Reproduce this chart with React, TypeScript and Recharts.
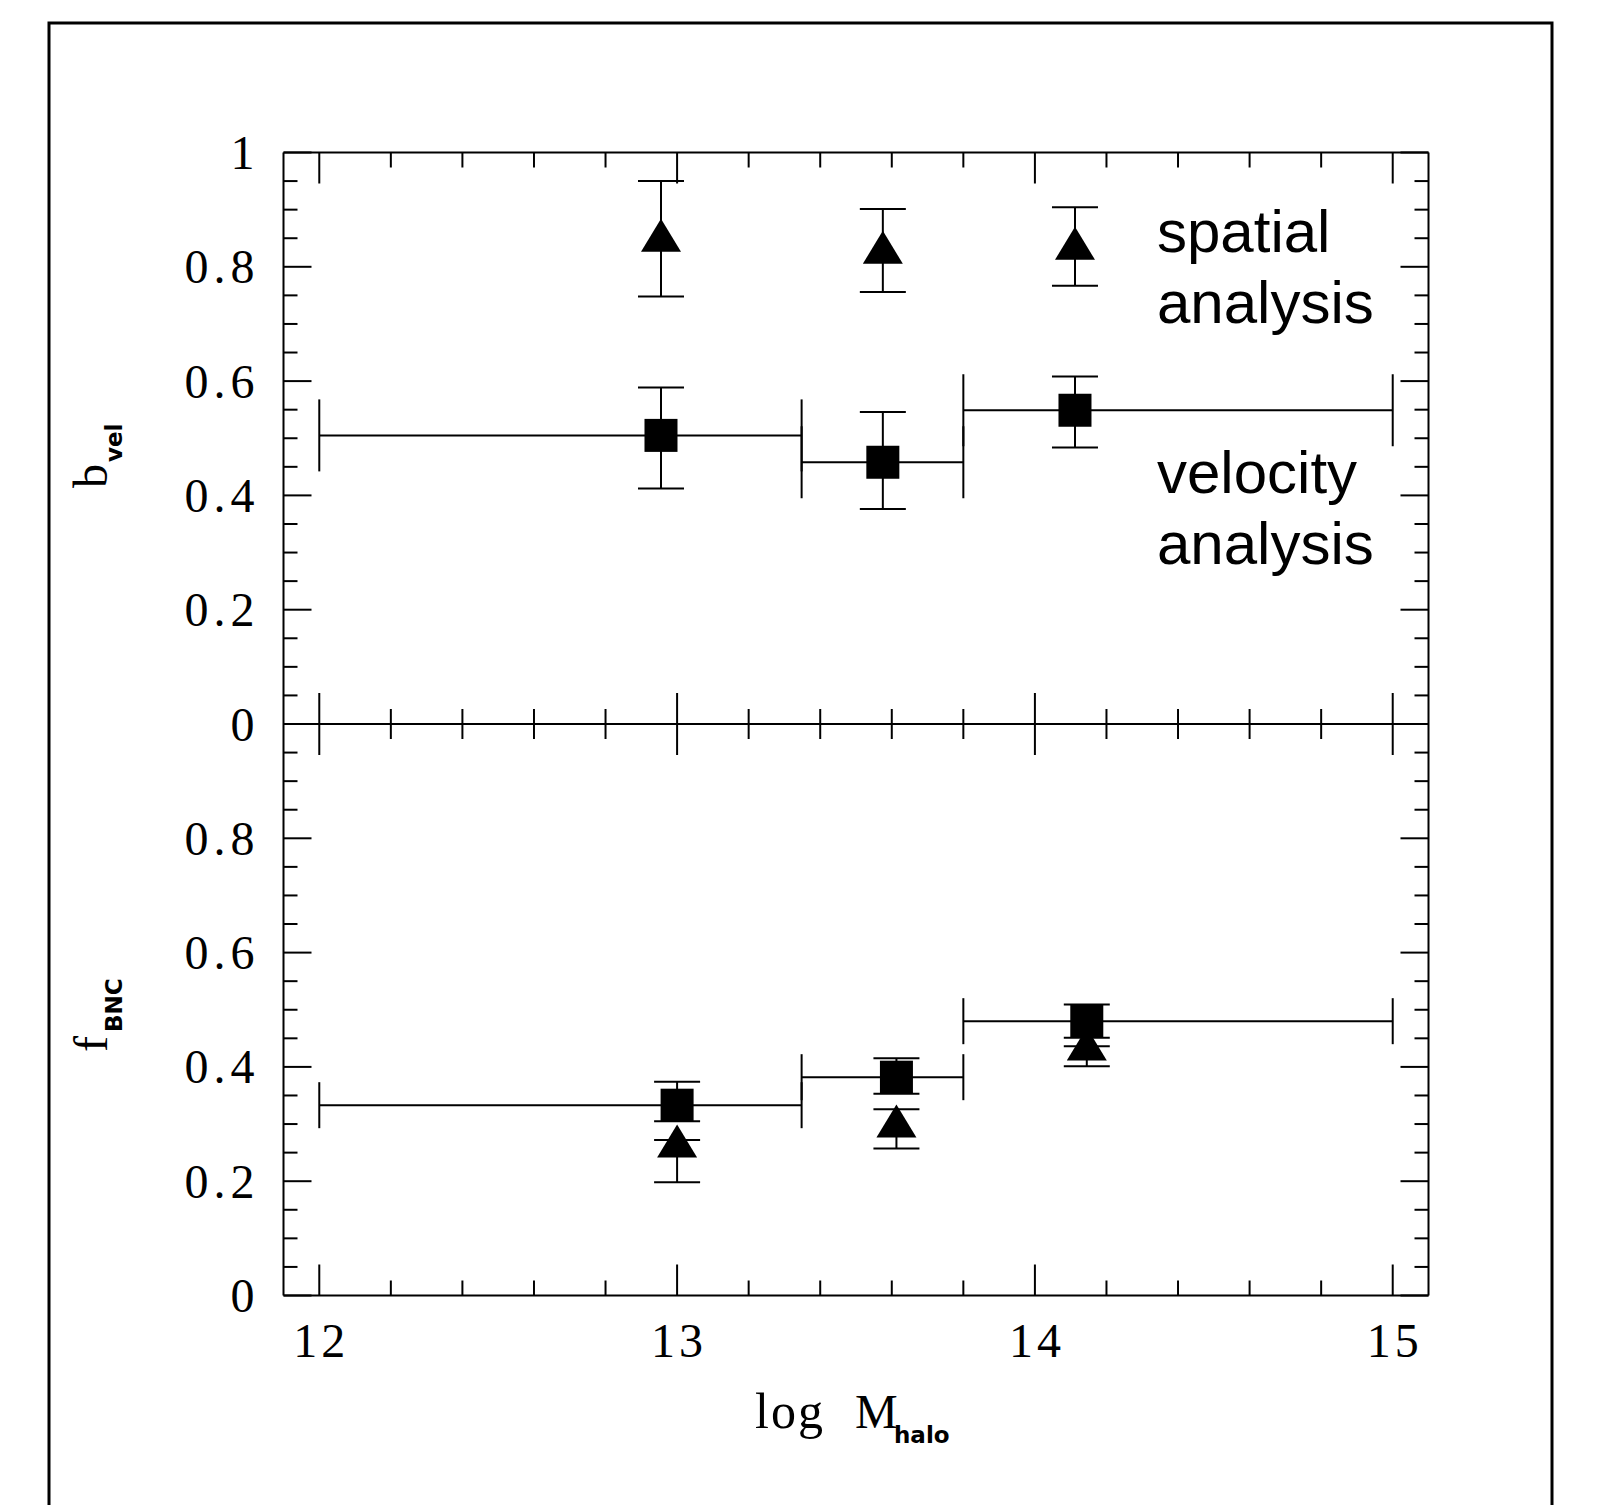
import { ScatterChart, Scatter, XAxis, YAxis, ErrorBar } from "recharts"

// halo mass bins (log M_halo) and bin edges
const topMass = [12.955, 13.575, 14.112]
const bottomMass = [13.0, 13.613, 14.145]
const binEdges = [12.0, 13.348, 13.8, 15.0]

// b_vel panel
const bvelSpatial = [0.849, 0.828, 0.835]
const bvelSpatialLo = [0.748, 0.756, 0.767]
const bvelSpatialHi = [0.95, 0.901, 0.904]
const bvelVelocity = [0.505, 0.458, 0.549]
const bvelVelocityLo = [0.412, 0.376, 0.484]
const bvelVelocityHi = [0.589, 0.546, 0.608]

// f_BNC panel
const fbncSpatial = [0.264, 0.299, 0.434]
const fbncSpatialLo = [0.198, 0.257, 0.401]
const fbncSpatialHi = [0.272, 0.326, 0.436]
const fbncVelocity = [0.333, 0.382, 0.48]
const fbncVelocityLo = [0.305, 0.353, 0.451]
const fbncVelocityHi = [0.374, 0.415, 0.509]

const xTicks = [12, 12.2, 12.4, 12.6, 12.8, 13, 13.2, 13.4, 13.6, 13.8, 14, 14.2, 14.4, 14.6, 14.8, 15]
const yTicks = [
  0, 0.05, 0.1, 0.15, 0.2, 0.25, 0.3, 0.35, 0.4, 0.45, 0.5, 0.55, 0.6, 0.65, 0.7, 0.75, 0.8, 0.85,
  0.9, 0.95, 1,
]
const xMajor = [12, 13, 14, 15]
const yMajor = [0, 0.2, 0.4, 0.6, 0.8, 1]
const topYLabels = ["0", "0.2", "0.4", "0.6", "0.8", "1"]
const bottomYLabels = ["0", "0.2", "0.4", "0.6", "0.8"]

const SERIF = "'Liberation Serif', 'Times New Roman', serif"
const SANS = "'Liberation Sans', Arial, sans-serif"
const SUB = "'DejaVu Sans', sans-serif"

const X_DOMAIN: [number, number] = [11.9, 15.1]
const axisLine = { stroke: "#000", strokeWidth: 2 }

const near = (a: number, b: number) => Math.abs(a - b) < 1e-6

function makeRows(xs: number[], ys: number[], lo: number[], hi: number[], withBins: boolean) {
  return xs.map((x, i) => ({
    x,
    y: ys[i],
    yErr: [ys[i] - lo[i], hi[i] - ys[i]],
    xErr: withBins ? [x - binEdges[i], binEdges[i + 1] - x] : [0, 0],
  }))
}

function xTick(side: "top" | "bottom", labels: boolean) {
  return (props: any) => {
    const { x, y, payload } = props
    const v = payload.value
    const idx = xMajor.findIndex((m) => near(m, v))
    const len = idx >= 0 ? 31 : 15
    const dir = side === "bottom" ? -1 : 1
    return (
      <g>
        <line x1={x} x2={x} y1={y} y2={y + dir * len} stroke="#000" strokeWidth={2} />
        {labels && idx >= 0 && (
          <text
            x={x + 2}
            y={y + 45}
            textAnchor="middle"
            dominantBaseline="central"
            fontFamily={SERIF}
            fontSize={48}
            letterSpacing={4}
            fill="#000"
          >
            {String(xMajor[idx])}
          </text>
        )}
      </g>
    )
  }
}

function yTick(side: "left" | "right", labels: string[] | null) {
  return (props: any) => {
    const { x, y, payload } = props
    const v = payload.value
    const idx = yMajor.findIndex((m) => near(m, v))
    const len = idx >= 0 ? 28 : 14
    const dir = side === "left" ? 1 : -1
    return (
      <g>
        <line x1={x} x2={x + dir * len} y1={y} y2={y} stroke="#000" strokeWidth={2} />
        {labels && idx >= 0 && idx < labels.length && (
          <text
            x={x - 24}
            y={y}
            textAnchor="end"
            dominantBaseline="central"
            fontFamily={SERIF}
            fontSize={48}
            letterSpacing={5}
            fill="#000"
          >
            {labels[idx]}
          </text>
        )}
      </g>
    )
  }
}

const square = (p: any) => <rect x={p.cx - 16.5} y={p.cy - 16.5} width={33} height={33} fill="#000" />
const triangle = (p: any) => (
  <path d={`M${p.cx},${p.cy - 20} L${p.cx + 20},${p.cy + 13} L${p.cx - 20},${p.cy + 13} Z`} fill="#000" />
)

function Panel(props: {
  top: number
  height: number
  marginTop: number
  marginBottom: number
  spatial: any[]
  velocity: any[]
  xCap: number
  yLabels: string[]
  xLabels: boolean
}) {
  const { top, height, marginTop, marginBottom, spatial, velocity, xCap, yLabels, xLabels } = props
  // axes are 1px thick, so margins are 1px short of the plot box edges
  return (
    <div style={{ position: "absolute", left: 0, top }}>
      <ScatterChart
        width={1600}
        height={height}
        margin={{ top: marginTop - 1, bottom: marginBottom - 1, left: 282.5, right: 170.5 }}
      >
        <XAxis
          xAxisId="b"
          type="number"
          dataKey="x"
          domain={X_DOMAIN}
          ticks={xTicks}
          interval={0}
          height={1}
          tickSize={0}
          tickMargin={0}
          tickLine={false}
          axisLine={axisLine}
          tick={xTick("bottom", xLabels)}
          allowDataOverflow
        />
        <XAxis
          xAxisId="t"
          orientation="top"
          type="number"
          dataKey="x"
          domain={X_DOMAIN}
          ticks={xTicks}
          interval={0}
          height={1}
          tickSize={0}
          tickMargin={0}
          tickLine={false}
          axisLine={axisLine}
          tick={xTick("top", false)}
          allowDataOverflow
        />
        <YAxis
          yAxisId="l"
          type="number"
          dataKey="y"
          domain={[0, 1]}
          ticks={yTicks}
          interval={0}
          width={1}
          tickSize={0}
          tickMargin={0}
          tickLine={false}
          axisLine={axisLine}
          tick={yTick("left", yLabels)}
          allowDataOverflow
        />
        <YAxis
          yAxisId="r"
          orientation="right"
          type="number"
          dataKey="y"
          domain={[0, 1]}
          ticks={yTicks}
          interval={0}
          width={1}
          tickSize={0}
          tickMargin={0}
          tickLine={false}
          axisLine={axisLine}
          tick={yTick("right", null)}
          allowDataOverflow
        />
        <Scatter xAxisId="b" yAxisId="l" data={velocity} shape={square} isAnimationActive={false}>
          <ErrorBar dataKey="xErr" direction="x" width={xCap} stroke="#000" strokeWidth={2} />
          <ErrorBar dataKey="yErr" direction="y" width={23} stroke="#000" strokeWidth={2} />
        </Scatter>
        <Scatter xAxisId="t" yAxisId="r" data={spatial} shape={triangle} isAnimationActive={false}>
          <ErrorBar dataKey="yErr" direction="y" width={23} stroke="#000" strokeWidth={2} />
        </Scatter>
      </ScatterChart>
    </div>
  )
}

export default function App() {
  const topSpatial = makeRows(topMass, bvelSpatial, bvelSpatialLo, bvelSpatialHi, false)
  const topVelocity = makeRows(topMass, bvelVelocity, bvelVelocityLo, bvelVelocityHi, true)
  const botSpatial = makeRows(bottomMass, fbncSpatial, fbncSpatialLo, fbncSpatialHi, false)
  const botVelocity = makeRows(bottomMass, fbncVelocity, fbncVelocityLo, fbncVelocityHi, true)

  return (
    <div style={{ position: "relative", width: 1600, height: 1505, background: "#fff", overflow: "hidden" }}>
      <style>{"body{margin:0}"}</style>
      <Panel
        top={0}
        height={760}
        marginTop={152.5}
        marginBottom={36}
        spatial={topSpatial}
        velocity={topVelocity}
        xCap={36}
        yLabels={topYLabels}
        xLabels={false}
      />
      <Panel
        top={700}
        height={805}
        marginTop={24}
        marginBottom={209.5}
        spatial={botSpatial}
        velocity={botVelocity}
        xCap={23}
        yLabels={bottomYLabels}
        xLabels={true}
      />
      <svg
        width={1600}
        height={1505}
        style={{ position: "absolute", left: 0, top: 0, pointerEvents: "none" }}
      >
        <rect x={49} y={23} width={1503} height={1600} fill="none" stroke="#000" strokeWidth={3} />
        <text transform="translate(107,488) rotate(-90)" fill="#000">
          <tspan fontFamily={SERIF} fontSize={48}>b</tspan>
          <tspan fontFamily={SUB} fontWeight="bold" fontSize={23} dx={2} dy={15}>vel</tspan>
        </text>
        <text transform="translate(107,1052) rotate(-90)" fill="#000">
          <tspan fontFamily={SERIF} fontSize={48}>f</tspan>
          <tspan fontFamily={SUB} fontWeight="bold" fontSize={23} dx={4} dy={15}>BNC</tspan>
        </text>
        <text x={755} y={1428} fontFamily={SERIF} fontSize={50} letterSpacing={2} fill="#000">log</text>
        <text x={855} y={1428} fontFamily={SERIF} fontSize={48} fill="#000">M</text>
        <text x={894} y={1443} fontFamily={SUB} fontWeight="bold" fontSize={23} fill="#000">halo</text>
        <text fontFamily={SANS} fontSize={60} fill="#000">
          <tspan x={1157} y={252}>spatial</tspan>
          <tspan x={1157} y={323}>analysis</tspan>
        </text>
        <text fontFamily={SANS} fontSize={60} fill="#000">
          <tspan x={1157} y={493}>velocity</tspan>
          <tspan x={1157} y={564}>analysis</tspan>
        </text>
      </svg>
    </div>
  )
}
